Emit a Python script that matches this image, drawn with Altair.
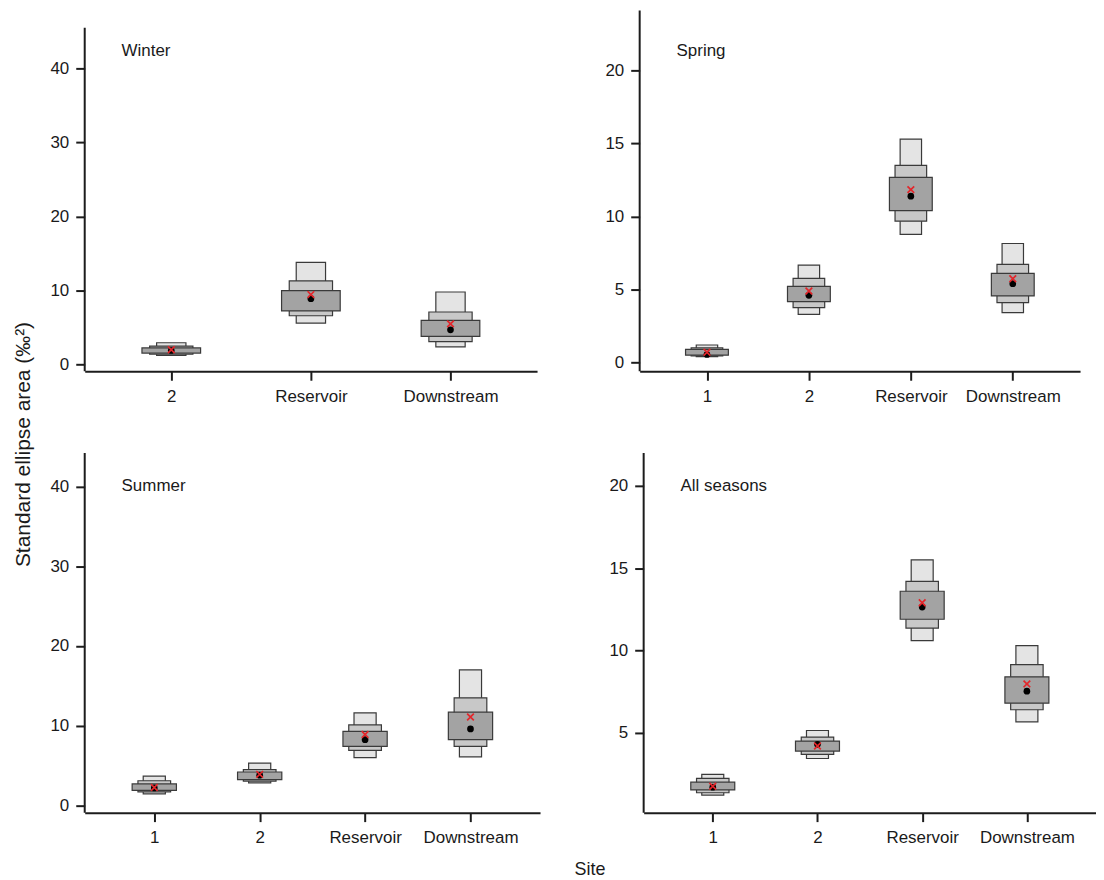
import altair as alt
import pandas as pd

FONT = "Liberation Sans"

# ---------------- data ----------------
winter_sites = ["2", "Reservoir", "Downstream"]
winter_lo95 = [1.25, 5.6, 2.4]
winter_hi95 = [2.95, 13.8, 9.8]
winter_lo75 = [1.4, 6.6, 3.1]
winter_hi75 = [2.5, 11.3, 7.1]
winter_lo50 = [1.55, 7.25, 3.8]
winter_hi50 = [2.25, 10.0, 5.96]
winter_mode = [1.9, 8.9, 4.7]
winter_mean = [2.0, 9.45, 5.5]

spring_sites = ["1", "2", "Reservoir", "Downstream"]
spring_lo95 = [0.4, 3.3, 8.77, 3.42]
spring_hi95 = [1.2, 6.67, 15.3, 8.15]
spring_lo75 = [0.45, 3.76, 9.68, 4.1]
spring_hi75 = [1.0, 5.76, 13.5, 6.72]
spring_lo50 = [0.5, 4.17, 10.4, 4.56]
spring_hi50 = [0.9, 5.22, 12.68, 6.1]
spring_mode = [0.55, 4.6, 11.39, 5.4]
spring_mean = [0.7, 4.9, 11.84, 5.74]

summer_sites = ["1", "2", "Reservoir", "Downstream"]
summer_lo95 = [1.46, 2.84, 6.0, 6.1]
summer_hi95 = [3.67, 5.3, 11.6, 17.0]
summer_lo75 = [1.7, 3.05, 6.9, 7.4]
summer_hi75 = [3.1, 4.5, 10.1, 13.5]
summer_lo50 = [1.9, 3.25, 7.4, 8.25]
summer_hi50 = [2.7, 4.2, 9.3, 11.7]
summer_mode = [2.2, 3.8, 8.25, 9.6]
summer_mean = [2.25, 3.9, 8.9, 11.1]

all_sites = ["1", "2", "Reservoir", "Downstream"]
all_lo95 = [1.22, 3.44, 10.6, 5.67]
all_hi95 = [2.47, 5.14, 15.5, 10.3]
all_lo75 = [1.36, 3.69, 11.36, 6.4]
all_hi75 = [2.23, 4.74, 14.2, 9.14]
all_lo50 = [1.53, 3.89, 11.9, 6.8]
all_hi50 = [2.0, 4.5, 13.6, 8.4]
all_mode = [1.7, 4.3, 12.64, 7.53]
all_mean = [1.75, 4.2, 12.9, 7.97]

# axis extents / ticks
winter_ydomain = [-0.9, 47.8]
winter_yaxis_top = 45.5
winter_yticks = [0, 10, 20, 30, 40]
spring_ydomain = [-0.6, 24.1]
spring_yaxis_top = 24.1
spring_yticks = [0, 5, 10, 15, 20]
summer_ydomain = [-0.9, 44.2]
summer_yaxis_top = 44.2
summer_yticks = [0, 10, 20, 30, 40]
all_ydomain = [0.15, 22.0]
all_yaxis_top = 22.0
all_yticks = [5, 10, 15, 20]

LEVELS = ["95", "75", "50"]
FILLS = ["#e4e4e4", "#c8c8c8", "#a3a3a3"]
AXIS_COLOR = "#1c1c1c"


def panel(name, sites, lo95, hi95, lo75, hi75, lo50, hi50, mode, mean,
          ydomain, yaxis_top, yticks, width, height, label_y):
    n = len(sites)
    xdomain = [0.5 - 0.04 * n, n + 0.5 + 0.04 * n]
    rows = []
    for lvl, lo, hi in (("95", lo95, hi95), ("75", lo75, hi75), ("50", lo50, hi50)):
        for i in range(n):
            rows.append({"site": i + 1, "level": lvl, "lo": lo[i], "hi": hi[i]})
    boxes = pd.DataFrame(rows)
    pts = pd.DataFrame({"site": list(range(1, n + 1)), "mode": mode, "mean": mean})
    yline = pd.DataFrame({"y": [ydomain[0]], "y2": [yaxis_top]})
    lab = pd.DataFrame({"t": [name]})

    label_expr = "[" + ",".join("'%s'" % s for s in sites) + "][datum.value - 1]"
    xscale = alt.Scale(domain=xdomain, nice=False, zero=False)
    yscale = alt.Scale(domain=ydomain, nice=False, zero=False)
    xaxis = alt.Axis(values=list(range(1, n + 1)), labelExpr=label_expr, title=None,
                     grid=False, labelPadding=8)
    yaxis = alt.Axis(values=yticks, title=None, grid=False, domain=False,
                     labelPadding=7)

    rects = alt.Chart(boxes).transform_calculate(
        hw="datum.level == '95' ? 0.105 : (datum.level == '75' ? 0.155 : 0.21)"
    ).transform_calculate(
        xa="datum.site - datum.hw", xb="datum.site + datum.hw"
    ).mark_rect(stroke="#3a3a3a", strokeWidth=1.2).encode(
        x=alt.X("xa:Q", scale=xscale, axis=xaxis),
        x2="xb:Q",
        y=alt.Y("lo:Q", scale=yscale, axis=yaxis),
        y2="hi:Q",
        fill=alt.Fill("level:N", scale=alt.Scale(domain=LEVELS, range=FILLS), legend=None),
    )
    axis_line = alt.Chart(yline).mark_rule(color=AXIS_COLOR, strokeWidth=2).encode(
        x=alt.value(0), y=alt.Y("y:Q", scale=yscale), y2="y2:Q"
    )
    dots = alt.Chart(pts).mark_circle(size=45, color="black", opacity=1).encode(
        x=alt.X("site:Q", scale=xscale), y=alt.Y("mode:Q", scale=yscale)
    )
    crosses = alt.Chart(pts).mark_point(
        shape="M-1,-1L1,1M-1,1L1,-1", size=45, filled=False, stroke="#e3262b",
        strokeWidth=1.7, opacity=1
    ).encode(x=alt.X("site:Q", scale=xscale), y=alt.Y("mean:Q", scale=yscale))
    label = alt.Chart(lab).mark_text(
        align="left", baseline="middle", fontSize=17, font=FONT, color="#1a1a1a"
    ).encode(x=alt.value(37), y=alt.value(label_y), text="t:N")

    return alt.layer(rects, axis_line, dots, crosses, label).properties(
        width=width, height=height
    )


winter = panel("Winter", winter_sites, winter_lo95, winter_hi95, winter_lo75, winter_hi75,
               winter_lo50, winter_hi50, winter_mode, winter_mean,
               winter_ydomain, winter_yaxis_top, winter_yticks, 454, 362, 41)
spring = panel("Spring", spring_sites, spring_lo95, spring_hi95, spring_lo75, spring_hi75,
               spring_lo50, spring_hi50, spring_mode, spring_mean,
               spring_ydomain, spring_yaxis_top, spring_yticks, 442, 362, 41)
summer = panel("Summer", summer_sites, summer_lo95, summer_hi95, summer_lo75, summer_hi75,
               summer_lo50, summer_hi50, summer_mode, summer_mean,
               summer_ydomain, summer_yaxis_top, summer_yticks, 457, 361, 33)
alls = panel("All seasons", all_sites, all_lo95, all_hi95, all_lo75, all_hi75,
             all_lo50, all_hi50, all_mode, all_mean,
             all_ydomain, all_yaxis_top, all_yticks, 454, 361, 33)

top = alt.hconcat(winter, spring, spacing=68)
bottom = alt.hconcat(summer, alls, spacing=69)
inner = alt.vconcat(top, bottom, spacing=48).properties(
    title=alt.TitleParams("Site", orient="bottom", anchor="middle", fontSize=18,
                          font=FONT, fontWeight="normal", color="#1a1a1a", offset=16, dx=17)
)
chart = alt.hconcat(inner).properties(
    title=alt.TitleParams("Standard ellipse area (‰²)", orient="left", anchor="middle",
                          fontSize=21, font=FONT, fontWeight="normal", color="#1a1a1a",
                          offset=16),
    padding={"left": 5, "top": 0, "right": 0, "bottom": 0},
).configure_axis(
    labelFont=FONT, labelFontSize=17, labelColor="#1a1a1a",
    domainColor=AXIS_COLOR, domainWidth=2, tickColor=AXIS_COLOR, tickWidth=2, tickSize=9,
).configure_view(stroke=None).configure_concat(spacing=0)

chart.save("out.html", embed_options={"renderer": "svg", "actions": False})
